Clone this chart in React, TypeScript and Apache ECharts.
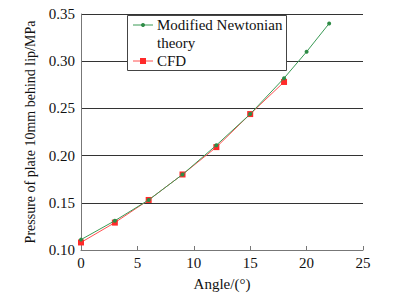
import React, { useEffect, useRef } from "react";
import * as echarts from "echarts";

const angles = [0, 3, 6, 9, 12, 15, 18, 20, 22];
const newtonian = [0.111, 0.131, 0.153, 0.180, 0.211, 0.244, 0.282, 0.310, 0.340];
const cfdAngles = [0, 3, 6, 9, 12, 15, 18];
const cfd = [0.108, 0.129, 0.153, 0.180, 0.209, 0.244, 0.278];
const seriesNames = ["Modified Newtonian theory", "CFD"];
const legendLines = ["Modified Newtonian", "theory", "CFD"];
const xAxisName = "Angle/(°)";
const yAxisName = "Pressure of plate 10mm behind lip/MPa";

const FONT = "Liberation Serif";
const GREEN = "#2e8b46";
const GREEN_LINE = "#3a9a55";
const RED = "#ff2a2a";
const RED_LINE = "#ff5050";

export default function App() {
  const ref = useRef<HTMLDivElement>(null);
  useEffect(() => {
    if (!ref.current) return;
    const chart = echarts.init(ref.current, undefined, { renderer: "svg" });
    const txt = { fontFamily: FONT, fontSize: 15, fill: "#111", verticalAlign: "middle" as const };
    const Z = 100;
    chart.setOption({
      animation: false,
      backgroundColor: "#ffffff",
      textStyle: { fontFamily: FONT },
      grid: { left: 81, right: 32, top: 14, bottom: 48, containLabel: false },
      graphic: [
        {
          type: "rect",
          z: Z,
          shape: { x: 127.5, y: 15.5, width: 159, height: 55 },
          style: { fill: "#fff", stroke: "#444", lineWidth: 1 },
        },
        { type: "line", z: Z + 1, shape: { x1: 133, y1: 25, x2: 153, y2: 25 }, style: { stroke: GREEN_LINE, lineWidth: 1 } },
        { type: "circle", z: Z + 2, shape: { cx: 143, cy: 25, r: 2 }, style: { fill: GREEN } },
        { type: "text", z: Z + 1, x: 157, y: 25, style: { ...txt, text: legendLines[0] } },
        { type: "text", z: Z + 1, x: 157, y: 43, style: { ...txt, text: legendLines[1] } },
        { type: "line", z: Z + 1, shape: { x1: 133, y1: 61, x2: 153, y2: 61 }, style: { stroke: RED_LINE, lineWidth: 1 } },
        { type: "rect", z: Z + 2, shape: { x: 140, y: 58, width: 6, height: 6 }, style: { fill: RED } },
        { type: "text", z: Z + 1, x: 157, y: 61, style: { ...txt, text: legendLines[2] } },
      ],
      xAxis: {
        type: "value",
        min: 0,
        max: 25,
        interval: 5,
        name: xAxisName,
        nameLocation: "middle",
        nameGap: 26,
        nameTextStyle: { fontFamily: FONT, fontSize: 15, color: "#111" },
        axisLine: { show: true, lineStyle: { color: "#777", width: 1 } },
        axisTick: { show: true, inside: true, length: 4, lineStyle: { color: "#777" } },
        axisLabel: { fontFamily: FONT, fontSize: 15, color: "#111", margin: 5 },
        splitLine: { show: false },
      },
      yAxis: {
        type: "value",
        min: 0.1,
        max: 0.35,
        interval: 0.05,
        name: yAxisName,
        nameLocation: "middle",
        nameGap: 43,
        nameRotate: 90,
        nameTextStyle: { fontFamily: FONT, fontSize: 14, color: "#111" },
        axisLine: { show: true, lineStyle: { color: "#777", width: 1 } },
        axisTick: { show: false },
        axisLabel: {
          fontFamily: FONT,
          fontSize: 15,
          color: "#111",
          margin: 6,
          formatter: (v: number) => v.toFixed(2),
        },
        splitLine: { show: true, lineStyle: { color: "#333", width: 1 } },
      },
      series: [
        {
          name: seriesNames[0],
          type: "line",
          data: angles.map((a, i) => [a, newtonian[i]]),
          symbol: "circle",
          symbolSize: 4,
          itemStyle: { color: GREEN },
          lineStyle: { color: GREEN_LINE, width: 1 },
          z: 3,
        },
        {
          name: seriesNames[1],
          type: "line",
          data: cfdAngles.map((a, i) => [a, cfd[i]]),
          symbol: "rect",
          symbolSize: 6,
          itemStyle: { color: RED },
          lineStyle: { color: RED_LINE, width: 1 },
          z: 2,
        },
      ],
    });
    return () => chart.dispose();
  }, []);
  return <div ref={ref} style={{ width: 395, height: 298, position: "absolute", left: 0, top: 0 }} />;
}
